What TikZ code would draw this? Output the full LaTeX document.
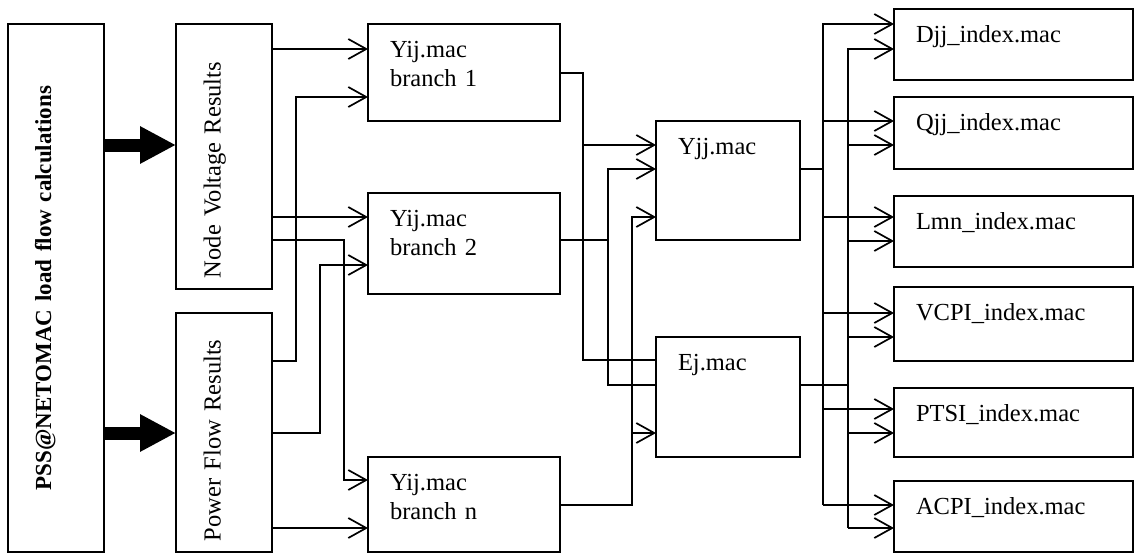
\documentclass[tikz,border=0pt]{standalone}
\usepackage{fontspec}
\setmainfont{Liberation Serif}
\usetikzlibrary{arrows.meta}

\begin{document}
\begin{tikzpicture}[x=1pt,y=-1pt,inner sep=0pt,outer sep=0pt,line width=1.7pt,
font=\fontsize{24.5}{29}\selectfont,
>={Straight Barb[length=18pt,width=20pt]},
macblock/.style={draw,anchor=north west,align=left,inner xsep=22pt,text height=33pt},
idxblock/.style={macblock,text width=195pt},
resblock/.style={draw,rotate=90,align=left,inner xsep=11pt,text height=44.7pt,text depth=51.3pt},
fatarrow/.style={line width=13pt,-{Triangle[length=36pt,width=35pt]}}]

\useasboundingbox (0,0) rectangle (1135,554);

\draw (56,288) node[draw,rotate=90,align=center,inner xsep=11pt,text width=506pt,text height=43pt,text depth=53pt,
  font=\fontsize{23}{28}\selectfont\bfseries] (pss) {PSS@NETOMAC load flow calculations};
\draw (224,156.5) node[resblock,text width=243pt] (nv) {Node Voltage Results};
\draw (224,432.5) node[resblock,text width=217pt] (pf) {Power Flow Results};

\draw (368,24) node[macblock,text width=148pt,text depth=64pt] (br1) {Yij.mac\\branch 1};
\draw (368,193) node[macblock,text width=148pt,text depth=68pt] (br2) {Yij.mac\\branch 2};
\draw (368,457) node[macblock,text width=148pt,text depth=62pt] (brn) {Yij.mac\\branch n};
\draw (656,121) node[macblock,text width=100pt,text depth=86pt] (yjj) {Yjj.mac};
\draw (656,337) node[macblock,text width=100pt,text depth=87pt] (ej) {Ej.mac};

\draw (894,9) node[idxblock,text depth=38pt] (djj) {Djj\_index.mac};
\draw (894,97) node[idxblock,text depth=39pt] (qjj) {Qjj\_index.mac};
\draw (894,196) node[idxblock,text depth=38pt] (lmn) {Lmn\_index.mac};
\draw (894,287) node[idxblock,text depth=41pt] (vcpi) {VCPI\_index.mac};
\draw (894,388) node[idxblock,text depth=36pt] (ptsi) {PTSI\_index.mac};
\draw (894,481) node[idxblock,text depth=38pt] (acpi) {ACPI\_index.mac};

% load flow results
\draw[fatarrow] (pss.south |- 0,145) -- (nv.north |- 0,145);
\draw[fatarrow] (pss.south |- 0,433) -- (pf.north |- 0,433);

% results to branches
\draw[->] (nv.south |- 0,49) -- (br1.west |- 0,49);
\draw[->] (nv.south |- 0,217) -- (br2.west |- 0,217);
\draw[->] (nv.south |- 0,240) -| (344,480) -- (brn.west |- 0,480);
\draw[->] (pf.south |- 0,361) -| (296,97) -- (br1.west |- 0,97);
\draw[->] (pf.south |- 0,433) -| (320,265) -- (br2.west |- 0,265);
\draw[->] (pf.south |- 0,528) -- (brn.west |- 0,528);

% branches to Yjj and Ej
\draw (br1.east |- 0,73) -| (583,360) -- (ej.west |- 0,360);
\draw[->] (583,145) -- (yjj.west |- 0,145);
\draw[->] (br2.east |- 0,240) -| (608,169) -- (yjj.west |- 0,169);
\draw (608,240) |- (ej.west |- 0,385);
\draw[->] (brn.east |- 0,505) -| (632,217) -- (yjj.west |- 0,217);
\draw[->] (632,433) -- (ej.west |- 0,433);

% Yjj and Ej to the indices
\draw (yjj.east |- 0,169) -- (823,169);
\draw[->] (823,505) |- (djj.west |- 0,24);
\draw (ej.east |- 0,385) -- (848,385);
\draw[->] (848,528) |- (djj.west |- 0,49);
\foreach \n/\a/\b in {qjj/121/145,lmn/217/241,vcpi/313/337,ptsi/409/433,acpi/505/528}{
  \draw[->] (823,\a) -- (\n.west |- 0,\a);
  \draw[->] (848,\b) -- (\n.west |- 0,\b);
}

\end{tikzpicture}
\end{document}
